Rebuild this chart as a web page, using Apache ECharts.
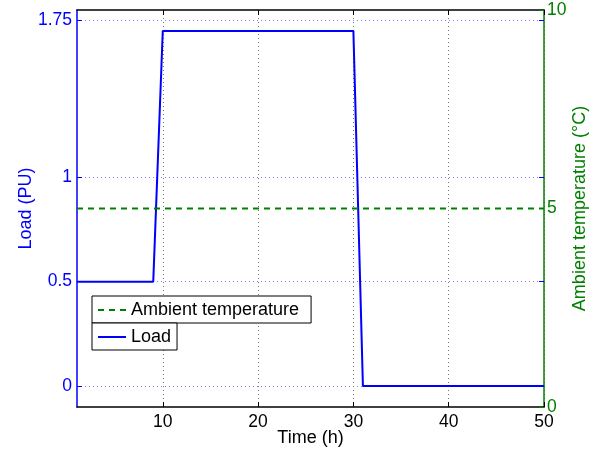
<!DOCTYPE html>
<html>
<head>
<meta charset="utf-8">
<script src="https://cdn.jsdelivr.net/npm/echarts@6/dist/echarts.min.js"></script>
<style>
  html, body { margin: 0; padding: 0; background: #fff; }
  #chart { width: 606px; height: 453px; }
</style>
</head>
<body>
<div id="chart"></div>
<script>
// Hourly time axis (h)
const hours = [1, 2, 3, 4, 5, 6, 7, 8, 9, 10,
  11, 12, 13, 14, 15, 16, 17, 18, 19, 20,
  21, 22, 23, 24, 25, 26, 27, 28, 29, 30,
  31, 32, 33, 34, 35, 36, 37, 38, 39, 40,
  41, 42, 43, 44, 45, 46, 47, 48, 49, 50];

// Load profile (per unit)
const loadPU = [0.5, 0.5, 0.5, 0.5, 0.5, 0.5, 0.5, 0.5, 0.5, 1.7,
  1.7, 1.7, 1.7, 1.7, 1.7, 1.7, 1.7, 1.7, 1.7, 1.7,
  1.7, 1.7, 1.7, 1.7, 1.7, 1.7, 1.7, 1.7, 1.7, 1.7,
  0, 0, 0, 0, 0, 0, 0, 0, 0, 0,
  0, 0, 0, 0, 0, 0, 0, 0, 0, 0];

// Ambient temperature (°C)
const ambientTemp = [5, 5, 5, 5, 5, 5, 5, 5, 5, 5,
  5, 5, 5, 5, 5, 5, 5, 5, 5, 5,
  5, 5, 5, 5, 5, 5, 5, 5, 5, 5,
  5, 5, 5, 5, 5, 5, 5, 5, 5, 5,
  5, 5, 5, 5, 5, 5, 5, 5, 5, 5];

// Tick values
const timeTicks = [10, 20, 30, 40, 50];
const loadTicks = [0, 0.5, 1, 1.75];
const tempTicks = [0, 5, 10];

const FONT = 'Liberation Sans, Arial, Helvetica, sans-serif';
const BLUE = '#0000ff';
const GREEN = '#008000';

const chart = echarts.init(document.getElementById('chart'), null, { renderer: 'canvas' });

const loadData = hours.map((h, i) => [h, loadPU[i]]);
const tempData = hours.map((h, i) => [h, ambientTemp[i]]);

const legendBase = {
  itemWidth: 28, itemHeight: 14,
  borderColor: '#000', borderWidth: 1, borderRadius: 0,
  backgroundColor: '#fff',
  selectedMode: false,
  itemStyle: { opacity: 0 },
  textStyle: { fontSize: 18, color: '#000', fontFamily: FONT, lineHeight: 20 }
};

chart.setOption({
  animation: false,
  backgroundColor: '#fff',
  textStyle: { fontFamily: FONT },
  grid: { left: 77, right: 62, top: 10, bottom: 46, containLabel: false, outerBoundsMode: 'none' },
  legend: [
    Object.assign({}, legendBase, {
      data: ['Ambient temperature'], left: 92, top: 296, padding: [4, 12, 3, 5]
    }),
    Object.assign({}, legendBase, {
      data: ['Load'], left: 92, top: 323, padding: [4, 6, 3, 5]
    })
  ],
  xAxis: [
    {
      type: 'value', min: 1, max: 50, position: 'bottom',
      name: 'Time (h)', nameLocation: 'middle', nameGap: 22, nameMoveOverlap: false,
      nameTextStyle: { fontSize: 18, color: '#000', fontFamily: FONT },
      axisLine: { show: true, onZero: false, lineStyle: { color: '#000', width: 1.5 } },
      axisTick: { show: true, inside: true, length: 5, customValues: timeTicks, lineStyle: { color: '#000' } },
      axisLabel: { customValues: timeTicks, color: '#000', fontSize: 17.5, margin: 6, fontFamily: FONT },
      splitLine: { show: true, lineStyle: { color: '#777', width: 1, type: [1, 3] } }
    },
    {
      type: 'value', min: 1, max: 50, position: 'top',
      axisLine: { show: true, onZero: false, lineStyle: { color: '#000', width: 1.5 } },
      axisTick: { show: true, inside: true, length: 5, customValues: timeTicks, lineStyle: { color: '#000' } },
      axisLabel: { show: false },
      splitLine: { show: false }
    }
  ],
  yAxis: [
    {
      type: 'value', min: -0.1, max: 1.8, position: 'left',
      name: 'Load (PU)', nameLocation: 'middle', nameGap: 42, nameMoveOverlap: false,
      nameTextStyle: { fontSize: 18, color: BLUE, fontFamily: FONT },
      axisLine: { show: true, onZero: false, lineStyle: { color: BLUE, width: 1.5 } },
      axisTick: { show: true, inside: true, length: 5, customValues: loadTicks, lineStyle: { color: BLUE } },
      axisLabel: { customValues: loadTicks, color: BLUE, fontSize: 17.5, margin: 5, fontFamily: FONT },
      splitLine: { show: true, lineStyle: { color: '#8080ff', width: 1, type: [1, 3] } }
    },
    {
      type: 'value', min: 0, max: 10, interval: 5, position: 'right',
      name: 'Ambient temperature (°C)', nameLocation: 'middle', nameGap: 27, nameMoveOverlap: false,
      nameTextStyle: { fontSize: 18, color: GREEN, fontFamily: FONT },
      axisLine: { show: true, onZero: false, lineStyle: { color: GREEN, width: 1.5 } },
      axisTick: { show: true, inside: true, length: 5, customValues: tempTicks, lineStyle: { color: GREEN } },
      axisLabel: { customValues: tempTicks, color: GREEN, fontSize: 17.5, margin: 3, fontFamily: FONT },
      splitLine: { show: false }
    },
    {
      type: 'value', min: -0.1, max: 1.8, position: 'right', offset: 0,
      axisLine: { show: false, onZero: false },
      axisTick: { show: true, inside: true, length: 5, customValues: loadTicks, lineStyle: { color: BLUE } },
      axisLabel: { show: false },
      splitLine: { show: false }
    }
  ],
  series: [
    {
      name: 'Load', type: 'line', xAxisIndex: 0, yAxisIndex: 0,
      data: loadData, symbol: 'none', showSymbol: false,
      lineStyle: { color: BLUE, width: 2 }, itemStyle: { color: BLUE },
      z: 3
    },
    {
      name: 'Ambient temperature', type: 'line', xAxisIndex: 0, yAxisIndex: 1,
      data: tempData, symbol: 'none', showSymbol: false,
      lineStyle: { color: GREEN, width: 2, type: [6, 5] }, itemStyle: { color: GREEN },
      z: 4
    }
  ]
});
</script>
</body>
</html>
